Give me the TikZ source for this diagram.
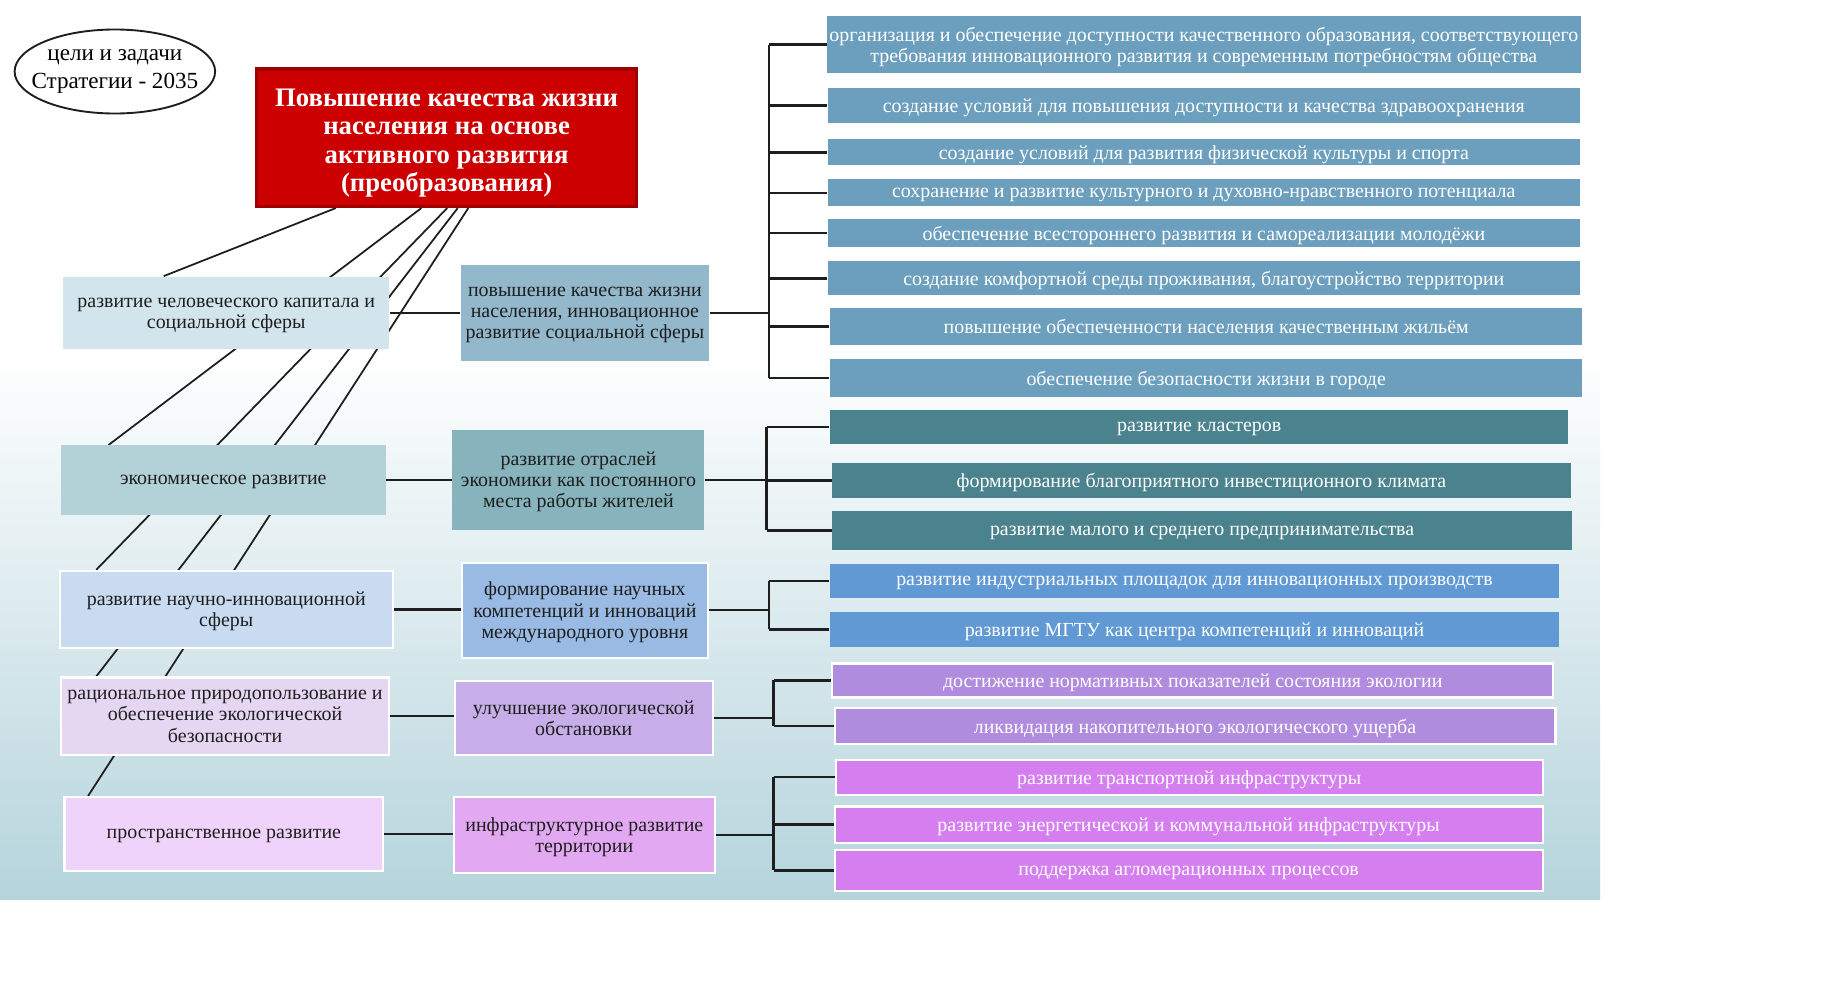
\documentclass[tikz,border=0pt]{standalone}
\usepackage{fontspec}
\setmainfont{Liberation Serif}
\usetikzlibrary{calc,shapes.geometric}
\definecolor{bgblue}{HTML}{B5D4DC}
\definecolor{redbox}{HTML}{CC0000}
\definecolor{rededge}{HTML}{9E0000}
\definecolor{lA}{HTML}{D2E4EC}
\definecolor{lB}{HTML}{B3D2D8}
\definecolor{lC}{HTML}{C8DBF0}
\definecolor{lD}{HTML}{E5D7F2}
\definecolor{lE}{HTML}{F0D3FA}
\definecolor{mA}{HTML}{93B8CC}
\definecolor{mB}{HTML}{86B3BC}
\definecolor{mC}{HTML}{98BAE3}
\definecolor{mD}{HTML}{C7AEE8}
\definecolor{mE}{HTML}{E2A8F2}
\definecolor{rA}{HTML}{6C9FBE}
\definecolor{rB}{HTML}{4A828E}
\definecolor{rC}{HTML}{6199D5}
\definecolor{rD}{HTML}{B08CDE}
\definecolor{rE}{HTML}{D47EF0}
\definecolor{ink}{HTML}{1E1E1E}
\pgfdeclarelayer{bg}
\pgfdeclarelayer{lines}
\pgfsetlayers{bg,lines,main}
\tikzset{
  box/.style={rectangle, inner sep=1pt, align=center, text depth=0pt, font=\fontsize{8.5}{9}\selectfont},
  lbox/.style={box, text=ink},
  rbox/.style={box, text=white},
  wb/.style={draw=white, line width=0.9pt},
  sz/.style 2 args={minimum width=#1, minimum height=#2},
  conn/.style={draw=ink, line width=1pt},
  diag/.style={draw=ink, line width=0.75pt},
}
\begin{document}
\begin{tikzpicture}[x=0.5pt,y=-0.5pt]
\useasboundingbox (0,0) rectangle (1568,845);
\begin{pgfonlayer}{bg}
  \fill[white] (0,0) rectangle (1568,845);
  \shade[top color=white, bottom color=bgblue] (0,300) rectangle (1365,767);
\end{pgfonlayer}

% title ellipse and main goal
\node[ellipse, draw=ink, line width=0.8pt, fill=white, inner xsep=-5.3pt, inner ysep=3.3pt, align=center, font=\fontsize{9.85}{12}\selectfont] (goal) at (98,61) {цели и задачи\\Стратегии - 2035};
\node[rectangle, fill=redbox, draw=rededge, line width=1.5pt, sz={162pt}{58.5pt}, align=center, text=white, font=\bfseries\fontsize{11.4}{12}\selectfont] (red) at (381,117.5) {\rule{0pt}{12pt}Повышение качества жизни\\населения на основе\\активного развития\\(преобразования)};

% level 1
\node[lbox, fill=lA, sz={139pt}{31pt}] (L1) at (193,267) {развитие человеческого капитала и\\социальной сферы};
\node[lbox, fill=lB, sz={138.5pt}{29.5pt}] (L2) at (190.5,409.5) {экономическое развитие};
\node[lbox, fill=lC, wb, sz={142pt}{33pt}] (L3) at (193,520) {развитие научно-инновационной\\сферы};
\node[lbox, fill=lD, wb, sz={140pt}{33pt}] (L4) at (192,611) {рациональное природопользование и\\обеспечение экологической\\безопасности};
\node[lbox, fill=lE, wb, sz={136pt}{31.5pt}] (L5) at (191,711.5) {пространственное развитие};

% level 2
\node[lbox, fill=mA, sz={106pt}{41pt}] (M1) at (499,267) {повышение качества жизни\\населения, инновационное\\развитие социальной сферы};
\node[lbox, fill=mB, sz={107.5pt}{42.5pt}] (M2) at (493.5,409.5) {развитие отраслей\\экономики как постоянного\\места работы жителей};
\node[lbox, fill=mC, wb, sz={105pt}{40.5pt}] (M3) at (499,520.5) {формирование научных\\компетенций и инноваций\\международного уровня};
\node[lbox, fill=mD, wb, sz={110pt}{31.5pt}] (M4) at (498,612.5) {улучшение экологической\\обстановки};
\node[lbox, fill=mE, wb, sz={111.5pt}{32.5pt}] (M5) at (498.5,712.5) {инфраструктурное развитие\\территории};

% level 3
\node[rbox, fill=rA, sz={321pt}{24pt}] (R1) at (1027,38) {организация и обеспечение доступности качественного образования, соответствующего\\требования инновационного развития и современным потребностям общества};
\node[rbox, fill=rA, sz={321pt}{15pt}] (R2) at (1027,90) {создание условий для повышения доступности и качества здравоохранения};
\node[rbox, fill=rA, sz={321pt}{11pt}] (R3) at (1027,130) {создание условий для развития физической культуры и спорта};
\node[rbox, fill=rA, sz={321pt}{11.5pt}] (R4) at (1027,164.5) {сохранение и развитие культурного и духовно-нравственного потенциала};
\node[rbox, fill=rA, sz={321pt}{12pt}] (R5) at (1027,199) {обеспечение всестороннего развития и самореализации молодёжи};
\node[rbox, fill=rA, sz={321pt}{14.5pt}] (R6) at (1027,237.5) {создание комфортной среды проживания, благоустройство территории};
\node[rbox, fill=rA, sz={321pt}{15.5pt}] (R7) at (1029,278.5) {повышение обеспеченности населения качественным жильём};
\node[rbox, fill=rA, sz={321pt}{16.5pt}] (R8) at (1029,322.5) {обеспечение безопасности жизни в городе};
\node[rbox, fill=rB, sz={315pt}{14.5pt}] (R9) at (1023,364.5) {развитие кластеров};
\node[rbox, fill=rB, sz={315pt}{15pt}] (R10) at (1025,410) {формирование благоприятного инвестиционного климата};
\node[rbox, fill=rB, sz={315.5pt}{16.5pt}] (R11) at (1025.5,452.5) {развитие малого и среднего предпринимательства};
\node[rbox, fill=rC, sz={311pt}{14.5pt}] (R12) at (1019,495.5) {развитие индустриальных площадок для инновационных производств};
\node[rbox, fill=rC, sz={311pt}{15pt}] (R13) at (1019,537) {развитие МГТУ как центра компетенций и инноваций};
\node[rbox, fill=rD, wb, sz={307.5pt}{14.5pt}] (R14) at (1017.5,580.5) {достижение нормативных показателей состояния экологии};
\node[rbox, fill=rD, wb, sz={307.5pt}{15.5pt}] (R15) at (1019.5,619.5) {ликвидация накопительного экологического ущерба};
\node[rbox, fill=rE, wb, sz={301.5pt}{15pt}] (R16) at (1014.5,663) {развитие транспортной инфраструктуры};
\node[rbox, fill=rE, wb, sz={302pt}{15.5pt}] (R17) at (1014,703.5) {развитие энергетической и коммунальной инфраструктуры};
\node[rbox, fill=rE, wb, sz={302pt}{17.5pt}] (R18) at (1014,742.5) {поддержка агломерационных процессов};

% diagonal links from the main goal (behind the boxes)
\begin{pgfonlayer}{lines}
  \draw[diag] ([xshift=34.5pt]red.south west) -- ([xshift=43pt]L1.north west);
  \draw[diag] ([xshift=71pt]red.south west) -- ([xshift=20.5pt]L2.north west);
  \draw[diag] ([xshift=82pt]red.south west) -- ([xshift=16pt]L3.north west);
  \draw[diag] ([xshift=86.5pt]red.south west) -- ([xshift=15.5pt]L4.north west);
  \draw[diag] ([xshift=91pt]red.south west) -- ([xshift=10.5pt]L5.north west);
\end{pgfonlayer}

% level 1 -> level 2
\draw[conn] (L1.east) -- (L1.east -| M1.west);
\draw[conn] (L2.east) -- (L2.east -| M2.west);
\draw[conn] (L3.east) -- (L3.east -| M3.west);
\draw[conn] (L4.east) -- (L4.east -| M4.west);
\draw[conn] (L5.east) -- (L5.east -| M5.west);

% level 2 -> level 3 brackets
\coordinate (B1) at (656,267);
\coordinate (B2) at (654,409.5);
\coordinate (B3) at (656,520.5);
\coordinate (B4) at (660,612.5);
\coordinate (B5) at (660,712.5);
\draw[conn] (M1.east) -- (B1);
\draw[conn] (M2.east) -- (B2);
\draw[conn] (M3.east) -- (B3);
\draw[conn] (M4.east) -- (B4);
\draw[conn] (M5.east) -- (B5);
\draw[conn] (B1 |- R1.west) -- (B1 |- R8.west);
\draw[conn] (B2 |- R9.west) -- (B2 |- R11.west);
\draw[conn] (B3 |- R12.west) -- (B3 |- R13.west);
\draw[conn] (B4 |- R14.west) -- (B4 |- R15.west);
\draw[conn] (B5 |- R16.west) -- (B5 |- R18.west);
\foreach \r in {R1,R2,R3,R4,R5,R6,R7,R8} \draw[conn] (B1 |- \r.west) -- (\r.west);
\foreach \r in {R9,R10,R11} \draw[conn] (B2 |- \r.west) -- (\r.west);
\foreach \r in {R12,R13} \draw[conn] (B3 |- \r.west) -- (\r.west);
\foreach \r in {R14,R15} \draw[conn] (B4 |- \r.west) -- (\r.west);
\foreach \r in {R16,R17,R18} \draw[conn] (B5 |- \r.west) -- (\r.west);
\end{tikzpicture}
\end{document}
